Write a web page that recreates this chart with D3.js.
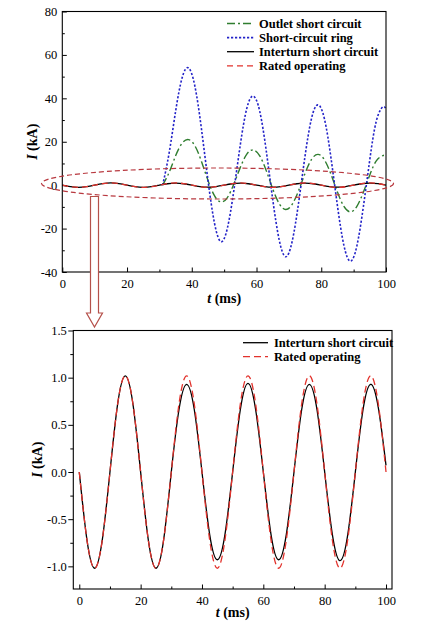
<!DOCTYPE html>
<html><head><meta charset="utf-8">
<script src="https://cdn.jsdelivr.net/npm/d3@7"></script>
<style>
body{margin:0;background:#fff}
svg{display:block}
text{font-family:"Liberation Serif","Times New Roman",serif;fill:#000}
</style>
</head><body>
<svg id="c" width="430" height="629"></svg>
<script>
// ---------- data ----------
const tGrid = [0,2.5,5,7.5,10,12.5,15,17.5,20,22.5,25,27.5,30,32.5,35,37.5,40,42.5,45,47.5,50,52.5,55,57.5,60,62.5,65,67.5,70,72.5,75,77.5,80,82.5,85,87.5,90,92.5,95,97.5,100];
const ratedI = [0,-0.72,-1.02,-0.72,0,0.72,1.02,0.72,0,-0.72,-1.02,-0.72,0,0.72,1.02,0.72,0,-0.72,-1.02,-0.72,0,0.72,1.02,0.72,0,-0.72,-1.02,-0.72,0,0.72,1.02,0.72,0,-0.72,-1.02,-0.72,0,0.72,1.02,0.72,0];
const interturnI = [0,-0.72,-1.02,-0.72,0,0.72,1.02,0.72,0,-0.72,-1.02,-0.72,0,0.66,0.93,0.66,0,-0.66,-0.93,-0.66,0,0.66,0.94,0.66,0,-0.66,-0.93,-0.66,0,0.66,0.93,0.66,0,-0.66,-0.94,-0.67,0,0.66,0.93,0.68,0.07];

const tFault = [31,33,35,37,39,41,43,45,47,49,51,53,55,57,59,61,63,65,67,69,71,73,75,77,79,81,83,85,87,89,91,93,95,97,99,100];
const ringI = [0,14.8,34.0,49.4,54.0,45.3,25.8,2.3,-17.4,-26.0,-19.8,-2.4,18.7,35.4,41.0,34.0,15.9,-6.5,-25.2,-33.0,-26.0,-8.1,13.5,30.8,37.0,30.4,12.6,-9.5,-27.8,-35.0,-28.0,-10.0,11.8,29.5,36.0,35.0];
const outletI = [0,5.9,13.5,19.3,21.0,18.05,10.9,2.2,-4.85,-7.7,-5.7,0.57,8.2,14.3,16.2,13.5,6.7,-1.7,-8.5,-11.2,-8.9,-2.5,5.5,11.9,14.2,11.6,5.0,-3.2,-9.8,-12.3,-9.8,-3.3,4.7,11.2,13.6,13.8];

const xTicksMajor = [0,20,40,60,80,100];
const xTicksMinor = [10,30,50,70,90];
const yTicksTop = [-40,-20,0,20,40,60,80];
const yTicksTopMinor = [-30,-10,10,30,50,70];
const yTicksBottom = [-1.0,-0.5,0.0,0.5,1.0,1.5];
const yTicksBottomMinor = [-0.75,-0.25,0.25,0.75,1.25];

const topLegend = ["Outlet short circuit","Short-circuit ring","Interturn short circuit","Rated operating"];
const bottomLegend = ["Interturn short circuit","Rated operating"];

// ---------- styles ----------
const C = {
  green:"#2f7d2f", blue:"#2323c8", black:"#000", red:"#e2322c",
  ellipse:"#b8383f", arrow:"#b5504a"
};
const STY = {
  outlet:{stroke:C.green, width:1.4, dash:"8,3,2,3"},
  ring:{stroke:C.blue, width:1.6, dash:"2.2,1.8"},
  interturn:{stroke:C.black, width:1.3, dash:null},
  rated:{stroke:C.red, width:1.3, dash:"6,4"}
};

const svg = d3.select("#c");
svg.append("rect").attr("width",430).attr("height",629).attr("fill","#fff");

function drawLine(g, xs, ys, x, y, s){
  const pts = xs.map((t,i)=>[t, ys[i]]);
  g.append("path").datum(pts)
    .attr("fill","none").attr("stroke",s.stroke).attr("stroke-width",s.width)
    .attr("stroke-dasharray",s.dash)
    .attr("d", d3.line().x(d=>x(d[0])).y(d=>y(d[1])).curve(d3.curveNatural));
}

function styleAxis(sel, fs){
  sel.select(".domain").remove();
  sel.selectAll("line").attr("stroke","#000").attr("stroke-width",1);
  sel.selectAll("text").style("font-size",fs+"px").attr("font-family",'"Liberation Serif","Times New Roman",serif');
}

// ================= TOP CHART =================
const xT = d3.scaleLinear().domain([0,100]).range([62.3,386]);
const yT = d3.scaleLinear().domain([-40,80]).range([272,11.5]);
const gT = svg.append("g");

// x axis
gT.append("g").attr("transform",`translate(0,${yT(-40)})`)
  .call(d3.axisBottom(xT).tickValues(xTicksMinor).tickSize(-2.5).tickFormat(""))
  .call(s=>styleAxis(s,12));
gT.append("g").attr("transform",`translate(0,${yT(-40)})`)
  .call(d3.axisBottom(xT).tickValues(xTicksMajor).tickSize(-4.5).tickPadding(7).tickFormat(d=>String(d)))
  .call(s=>styleAxis(s,12.5));
// y axis
gT.append("g").attr("transform",`translate(${xT(0)},0)`)
  .call(d3.axisLeft(yT).tickValues(yTicksTopMinor).tickSize(-2.5).tickFormat(""))
  .call(s=>styleAxis(s,12));
gT.append("g").attr("transform",`translate(${xT(0)},0)`)
  .call(d3.axisLeft(yT).tickValues(yTicksTop).tickSize(-4.5).tickPadding(5).tickFormat(d=>String(d)))
  .call(s=>styleAxis(s,12.5));

// series
drawLine(gT, tFault, outletI, xT, yT, STY.outlet);
drawLine(gT, tFault, ringI, xT, yT, STY.ring);
drawLine(gT, tGrid, interturnI, xT, yT, STY.interturn);
drawLine(gT, tGrid, ratedI, xT, yT, STY.rated);

// frame
gT.append("rect").attr("x",xT(0)).attr("y",yT(80)).attr("width",xT(100)-xT(0)).attr("height",yT(-40)-yT(80))
  .attr("fill","none").attr("stroke","#000").attr("stroke-width",1.1);

// titles
gT.append("text").attr("x",(xT(0)+xT(100))/2).attr("y",303).attr("text-anchor","middle")
  .style("font-size","14px").style("font-weight","bold")
  .html('<tspan font-style="italic">t</tspan> (ms)');
gT.append("text").attr("transform",`translate(37,${(yT(80)+yT(-40))/2}) rotate(-90)`).attr("text-anchor","middle")
  .style("font-size","14px").style("font-weight","bold")
  .html('<tspan font-style="italic">I</tspan> (kA)');

// legend
const legStyles = [STY.outlet, STY.ring, STY.interturn, STY.rated];
topLegend.forEach((name,i)=>{
  const yy = 23.5 + i*14.1;
  const s = legStyles[i];
  gT.append("line").attr("x1",227).attr("x2",254).attr("y1",yy).attr("y2",yy)
    .attr("stroke",s.stroke).attr("stroke-width",s.width).attr("stroke-dasharray",s.dash);
  gT.append("text").attr("x",259).attr("y",yy+4.3).style("font-size","12.5px").style("font-weight","bold").text(name);
});

// annotation ellipse
svg.append("ellipse").attr("cx",217.5).attr("cy",183.5).attr("rx",176).attr("ry",15.5)
  .attr("fill","none").attr("stroke",C.ellipse).attr("stroke-width",1.2).attr("stroke-dasharray","5,3");

// arrow
svg.append("path")
  .attr("d","M90.5,196.5 L90.5,313 L86.5,313 L94.5,327 L102.5,313 L98.5,313 L98.5,196.5 Z")
  .attr("fill","#fff").attr("stroke",C.arrow).attr("stroke-width",1.2);

// ================= BOTTOM CHART =================
const xB = d3.scaleLinear().domain([-1.95,101.95]).range([73.3,392]);
const yB = d3.scaleLinear().domain([-1.24,1.5]).range([589,330.5]);
const gB = svg.append("g");

gB.append("g").attr("transform",`translate(0,${yB(-1.24)})`)
  .call(d3.axisBottom(xB).tickValues(xTicksMinor).tickSize(-2.5).tickFormat(""))
  .call(s=>styleAxis(s,12));
gB.append("g").attr("transform",`translate(0,${yB(-1.24)})`)
  .call(d3.axisBottom(xB).tickValues(xTicksMajor).tickSize(-4.5).tickPadding(7).tickFormat(d=>String(d)))
  .call(s=>styleAxis(s,12.5));
gB.append("g").attr("transform",`translate(${xB(-1.95)},0)`)
  .call(d3.axisLeft(yB).tickValues(yTicksBottomMinor).tickSize(3).tickFormat(""))
  .call(s=>styleAxis(s,12));
gB.append("g").attr("transform",`translate(${xB(-1.95)},0)`)
  .call(d3.axisLeft(yB).tickValues(yTicksBottom).tickSize(5).tickPadding(1.5).tickFormat(d=>d.toFixed(1)))
  .call(s=>styleAxis(s,12.5));

drawLine(gB, tGrid, interturnI, xB, yB, STY.interturn);
drawLine(gB, tGrid, ratedI, xB, yB, {stroke:C.red, width:1.3, dash:"7,4"});

gB.append("rect").attr("x",xB(-1.95)).attr("y",yB(1.5)).attr("width",xB(101.95)-xB(-1.95)).attr("height",yB(-1.24)-yB(1.5))
  .attr("fill","none").attr("stroke","#000").attr("stroke-width",1.1);

gB.append("text").attr("x",(xB(-1.95)+xB(101.95))/2).attr("y",617).attr("text-anchor","middle")
  .style("font-size","14px").style("font-weight","bold")
  .html('<tspan font-style="italic">t</tspan> (ms)');
gB.append("text").attr("transform",`translate(42,${(yB(1.5)+yB(-1.24))/2}) rotate(-90)`).attr("text-anchor","middle")
  .style("font-size","14px").style("font-weight","bold")
  .html('<tspan font-style="italic">I</tspan> (kA)');

const legStylesB = [STY.interturn, {stroke:C.red, width:1.3, dash:"7,4"}];
bottomLegend.forEach((name,i)=>{
  const yy = 342.7 + i*14;
  const s = legStylesB[i];
  gB.append("line").attr("x1",243).attr("x2",268).attr("y1",yy).attr("y2",yy)
    .attr("stroke",s.stroke).attr("stroke-width",s.width).attr("stroke-dasharray",s.dash);
  gB.append("text").attr("x",274).attr("y",yy+4.3).style("font-size","12.5px").style("font-weight","bold").text(name);
});
</script>
</body></html>
